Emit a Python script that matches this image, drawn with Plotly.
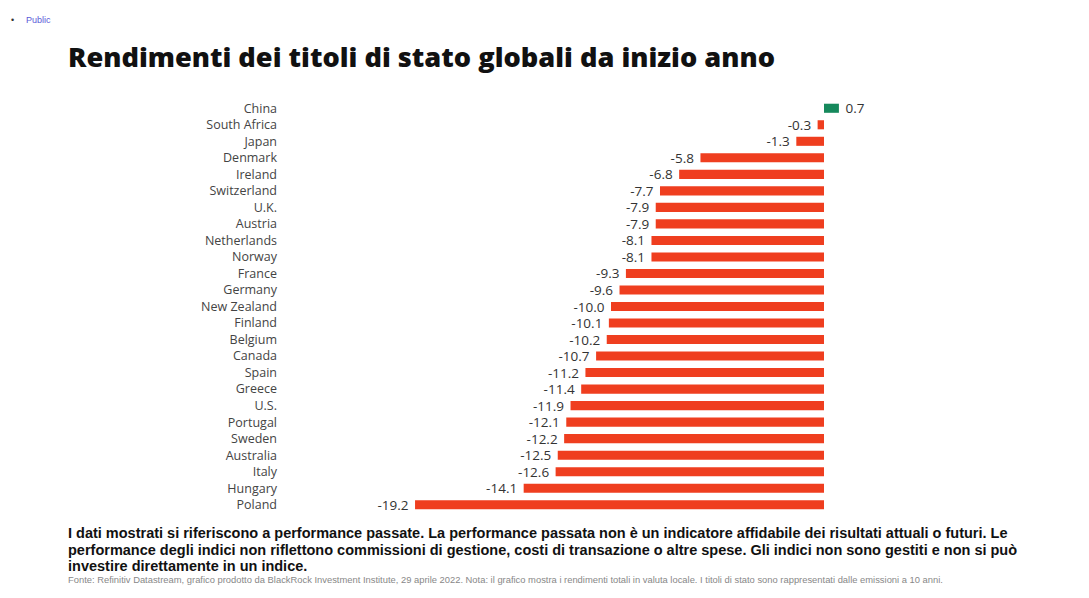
import plotly.graph_objects as go

countries = ["China", "South Africa", "Japan", "Denmark", "Ireland", "Switzerland", "U.K.",
             "Austria", "Netherlands", "Norway", "France", "Germany", "New Zealand", "Finland",
             "Belgium", "Canada", "Spain", "Greece", "U.S.", "Portugal", "Sweden", "Australia",
             "Italy", "Hungary", "Poland"]
returns = [0.7, -0.3, -1.3, -5.8, -6.8, -7.7, -7.9, -7.9, -8.1, -8.1, -9.3, -9.6, -10.0, -10.1,
           -10.2, -10.7, -11.2, -11.4, -11.9, -12.1, -12.2, -12.5, -12.6, -14.1, -19.2]

title = "Rendimenti dei titoli di stato globali da inizio anno"
disclaimer = ["I dati mostrati si riferiscono a performance passate. La performance passata non è un indicatore affidabile dei risultati attuali o futuri. Le",
              "performance degli indici non riflettono commissioni di gestione, costi di transazione o altre spese. Gli indici non sono gestiti e non si può",
              "investire direttamente in un indice."]
source = ("Fonte: Refinitiv Datastream, grafico prodotto da BlackRock Investment Institute, 29 aprile 2022. "
          "Nota: il grafico mostra i rendimenti totali in valuta locale. I titoli di stato sono rappresentati dalle emissioni a 10 anni.")

RED = "#ef3e1f"
GREEN = "#16895c"
colors = [GREEN if v > 0 else RED for v in returns]
labels = [(f" {v:.1f}" if v > 0 else f"{v:.1f} ") for v in returns]

fig = go.Figure(go.Bar(
    x=returns, y=countries, orientation="h",
    marker=dict(color=colors, line=dict(width=0)),
    width=0.55,
    text=labels, textposition="outside", cliponaxis=False, constraintext="none",
    textfont=dict(family="Open Sans", size=13.5, color="#333333"),
))

OFF = 8  # page body margin
W, H = 1089 - OFF, 598 - OFF
L, R = 290 - OFF, 880 - OFF
T, B = 100 - OFF, 513 - OFF
px_per_unit = 21.3
zero_px = 824 - OFF
x0 = -(zero_px - L) / px_per_unit
x1 = (R - zero_px) / px_per_unit


def px(x):
    return (x - OFF - L) / (R - L)


def py(y):
    return (B - (y - OFF)) / (B - T)


fig.update_layout(
    width=W, height=H,
    margin=dict(l=L, r=W - R, t=T, b=H - B, autoexpand=False),
    paper_bgcolor="white", plot_bgcolor="white",
    showlegend=False,
    xaxis=dict(range=[x0, x1], visible=False, fixedrange=True),
    yaxis=dict(autorange=False, range=[len(countries) - 0.5, -0.5], showgrid=False,
               showline=False, ticks="", ticklabelstandoff=12,
               tickfont=dict(family="Open Sans", size=12.5, color="#444444")),
)

fig.add_annotation(text="•", x=px(12), y=py(20), xref="paper", yref="paper",
                   showarrow=False, xanchor="center", yanchor="middle",
                   font=dict(family="Liberation Sans", size=9, color="#333"))
fig.add_annotation(text="Public", x=px(24), y=py(20), xref="paper", yref="paper",
                   showarrow=False, xanchor="left", yanchor="middle",
                   font=dict(family="Liberation Sans", size=9, color="#5a5ad8"))
fig.add_annotation(text=title, x=px(66), y=py(56), xref="paper", yref="paper",
                   showarrow=False, xanchor="left", yanchor="middle",
                   font=dict(family="Open Sans", size=27.2, color="#111111", weight=800))
for i, line in enumerate(disclaimer):
    fig.add_annotation(text=f"<b>{line}</b>", x=px(66), y=py(533 + i * 16.5),
                       xref="paper", yref="paper", showarrow=False, xanchor="left", yanchor="middle",
                       font=dict(family="Liberation Sans", size=14.5, color="#111111"))
fig.add_annotation(text=source, x=px(66), y=py(579), xref="paper", yref="paper",
                   showarrow=False, xanchor="left", yanchor="middle",
                   font=dict(family="Liberation Sans", size=9.4, color="#888888"))

fig.write_html("out.html")
